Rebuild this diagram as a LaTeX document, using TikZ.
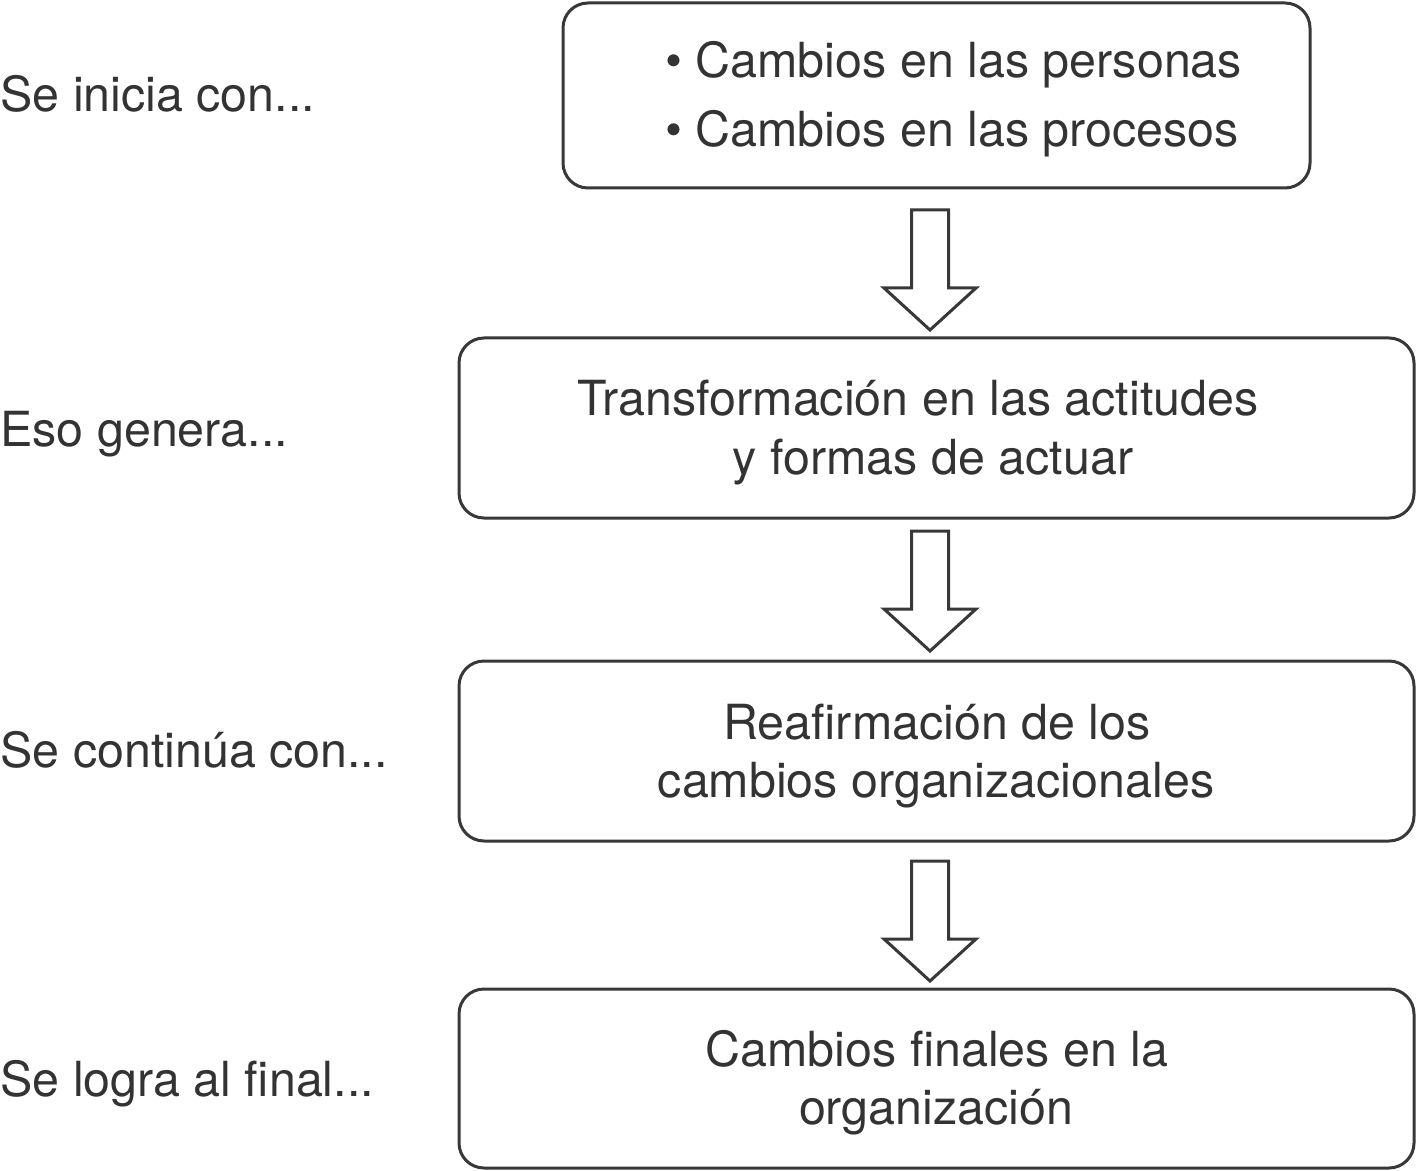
\documentclass[tikz,border=0pt]{standalone}
\usepackage{fontspec}
\setmainfont{TeX Gyre Heros}
\definecolor{lineg}{HTML}{383838}
\definecolor{textg}{HTML}{333333}
\begin{document}
\begin{tikzpicture}[x=0.5pt,y=-0.5pt,
  every node/.style={font=\fontsize{24.2pt}{29pt}\selectfont, text=textg, inner sep=0pt},
  box/.style={draw=lineg, line width=1.5pt, rounded corners=12.5pt, rectangle},
  txt/.style={anchor=base},
  lbl/.style={anchor=base west},
  arrowline/.style={draw=lineg, line width=1.5pt, fill=white, line join=miter},
  blockarrow/.pic={\path[arrowline] (-18.5,0) -- (18.5,0) -- (18.5,78) -- (46,78) -- (0,120) -- (-46,78) -- (-18.5,78) -- cycle;}
]
\useasboundingbox (0,0) rectangle (1417,1171);
% boxes
\node[box, minimum width=373.5pt, minimum height=92.5pt] (b1) at (936.5,95.5) {};
\node[box, minimum width=477.5pt, minimum height=90pt] (b2) at (936.5,428) {};
\node[box, minimum width=477.5pt, minimum height=90pt] (b3) at (936.5,751) {};
\node[box, minimum width=477.5pt, minimum height=89.5pt] (b4) at (936.5,1078.5) {};
% box texts
\node[anchor=base west] (t1a) at (665,78) {• Cambios en las personas};
\node[anchor=base west] (t1b) at (665,147) {• Cambios en las procesos};
\node[txt] (t2a) at (918,415) {Transformación en las actitudes};
\node[txt] (t2b) at (933,474) {y formas de actuar};
\node[txt] (t3a) at (937,739) {Reafirmación de los};
\node[txt] (t3b) at (936,797) {cambios organizacionales};
\node[txt] (t4a) at (937,1066) {Cambios finales en la};
\node[txt] (t4b) at (936,1124) {organización};
% left labels
\node[lbl] (l1) at (0,112) {Se inicia con...};
\node[lbl] (l2) at (0,446) {Eso genera...};
\node[lbl] (l3) at (0,767) {Se continúa con...};
\node[lbl] (l4) at (0,1096) {Se logra al final...};
% connectors (block arrows)
\coordinate (a1) at (930,210);
\coordinate (a2) at (930,531);
\coordinate (a3) at (930,861);
\pic at (a1) {blockarrow};
\pic at (a2) {blockarrow};
\pic at (a3) {blockarrow};
\end{tikzpicture}
\end{document}
